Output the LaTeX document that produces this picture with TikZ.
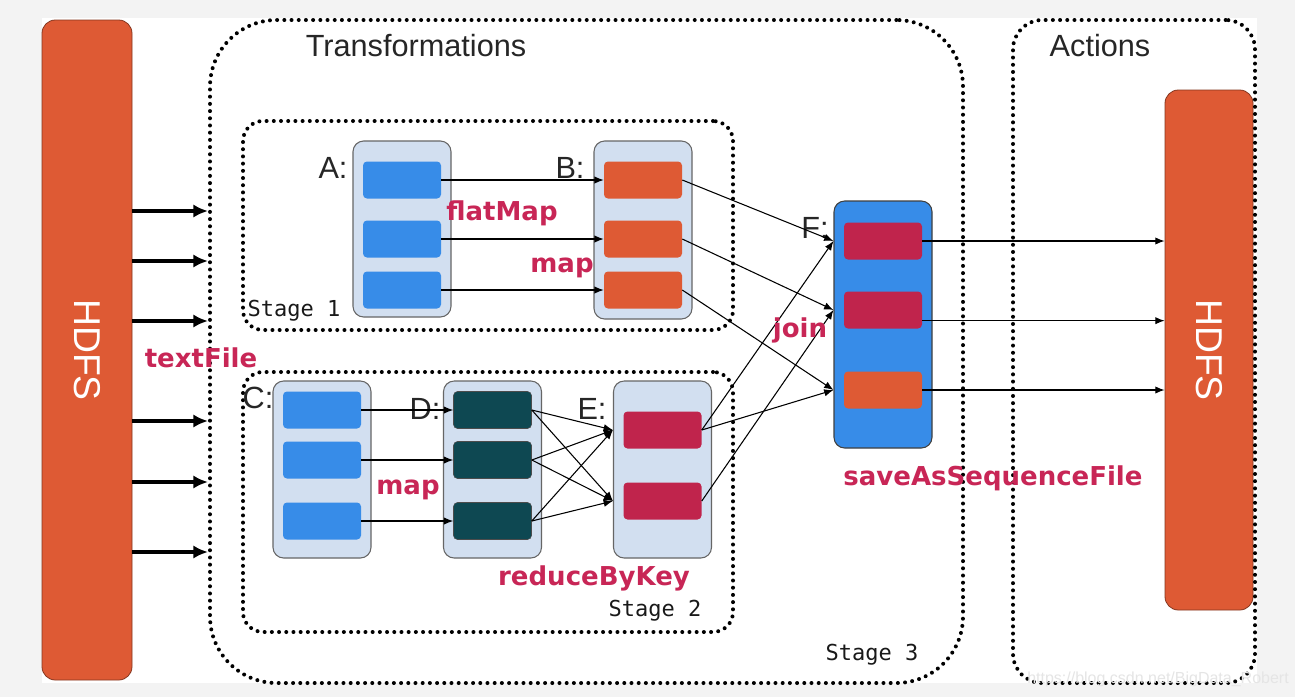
\documentclass[tikz,border=0pt]{standalone}
\usepackage{fontspec}
\setmainfont{Liberation Sans}
\setmonofont{DejaVu Sans Mono}
\newfontfamily\opfont{DejaVu Sans}
\usetikzlibrary{arrows.meta,positioning}

\definecolor{hdfsorange}{RGB}{222,90,52}
\definecolor{partblue}{RGB}{55,140,232}
\definecolor{rddfill}{RGB}{210,223,240}
\definecolor{partteal}{RGB}{14,72,82}
\definecolor{partred}{RGB}{192,36,76}
\definecolor{opred}{RGB}{200,38,86}
\definecolor{bggray}{RGB}{243,243,243}

\begin{document}
\begin{tikzpicture}[x=0.75pt,y=-0.75pt,
  hdfs/.style={draw=hdfsorange!60!black, fill=hdfsorange, rounded corners=10pt, line width=0.6pt},
  rdd/.style={draw=black!60, fill=rddfill, rounded corners=8pt, line width=0.8pt,
    minimum width=73.5pt, minimum height=132.75pt},
  part/.style={rounded corners=3pt, inner sep=0pt, minimum width=58.5pt, minimum height=27.75pt},
  stagebox/.style={draw=black, line width=3pt, dash pattern=on 0pt off 5.4pt, line cap=round, rounded corners=15pt},
  flow/.style={-{Latex[length=7pt,width=5.5pt]}, line width=0.8pt},
  load/.style={-{Latex[length=11pt,width=10pt]}, line width=3pt},
  opname/.style={text=opred, font=\opfont\bfseries\fontsize{19.5}{19.5}\selectfont},
  rddname/.style={text=black!85, font=\fontsize{23}{23}\selectfont},
  stagename/.style={text=black!90, font=\ttfamily\fontsize{16.5}{16.5}\selectfont}]

  % Page
  \useasboundingbox (0,0) rectangle (1295,697);
  \fill[bggray] (0,0) rectangle (1295,697);
  \fill[white] (42,18) rectangle (1257,683);

  % Storage on both sides
  \node[hdfs, minimum width=67.5pt, minimum height=495pt] (hdfsL) at (87,350) {};
  \node[hdfs, minimum width=66pt, minimum height=390pt] (hdfsR) at (1209,350) {};
  \node[text=white, rotate=-90, font=\fontsize{28}{28}\selectfont] at (hdfsL) {HDFS};
  \node[text=white, rotate=-90, font=\fontsize{28}{28}\selectfont] at (hdfsR) {HDFS};

  % Dotted groups
  \node[stagebox, rounded corners=50pt, minimum width=564.75pt, minimum height=497.25pt] (trans) at (586.5,351.5) {};
  \node[stagebox, rounded corners=22pt, minimum width=181.5pt, minimum height=497.25pt] (actions) at (1134,351.5) {};
  \node[stagebox, minimum width=367.5pt, minimum height=156.75pt] (stage1) at (488,225.5) {};
  \node[stagebox, minimum width=367.5pt, minimum height=195pt] (stage2) at (488,502) {};
  \node[rddname] at (416,46) {Transformations};
  \node[rddname] at (1100,46) {Actions};
  \node[stagename] at (294,311) {Stage 1};
  \node[stagename] at (655,611) {Stage 2};
  \node[stagename] at (872,655) {Stage 3};

  % RDDs of stage 1
  \node[rdd, minimum height=132pt] (A) at (402,229) {};
  \node[rdd, minimum height=133.5pt] (B) at (643,230) {};
  \node[part, fill=partblue] (A1) at (402,180) {};
  \node[part, fill=partblue] (A2) at (402,239) {};
  \node[part, fill=partblue] (A3) at (402,290) {};
  \node[part, fill=hdfsorange] (B1) at (643,180) {};
  \node[part, fill=hdfsorange] (B2) at (643,239) {};
  \node[part, fill=hdfsorange] (B3) at (643,290) {};

  % RDDs of stage 2
  \node[rdd] (C) at (322,469.5) {};
  \node[rdd] (D) at (492.5,469.5) {};
  \node[rdd] (E) at (662.5,469.5) {};
  \node[part, fill=partblue] (C1) at (322,410) {};
  \node[part, fill=partblue] (C2) at (322,460) {};
  \node[part, fill=partblue] (C3) at (322,521) {};
  \node[part, fill=partteal, draw=black!70] (D1) at (492.5,410) {};
  \node[part, fill=partteal, draw=black!70] (D2) at (492.5,460) {};
  \node[part, fill=partteal, draw=black!70] (D3) at (492.5,521) {};
  \node[part, fill=partred] (E1) at (662.5,430) {};
  \node[part, fill=partred] (E2) at (662.5,501) {};

  % Joined RDD
  \node[rdd, fill=partblue, draw=black!75, minimum height=185.25pt] (F) at (883,324.5) {};
  \node[part, fill=partred] (F1) at (883,241) {};
  \node[part, fill=partred] (F2) at (883,310) {};
  \node[part, fill=hdfsorange] (F3) at (883,390) {};

  % RDD labels
  \node[rddname] at (333,168) {A:};
  \node[rddname] at (570,168) {B:};
  \node[rddname] at (258,398) {C:};
  \node[rddname] at (425,409) {D:};
  \node[rddname] at (592,409) {E:};
  \node[rddname] at (815,228) {F:};

  % Reading the input
  \foreach \y in {211,261,321,421,482,552}
    \draw[load] (hdfsL.east |- 0,\y) -- (trans.west |- 0,\y);

  % Narrow dependencies
  \foreach \i in {1,2,3} {
    \draw[flow] (A\i.east) -- (B\i.west);
    \draw[flow] (C\i.east) -- (D\i.west);
    \draw[flow] (B\i.east) -- (F\i -| F.west);
  }

  % Shuffle D -> E
  \foreach \i in {1,2,3}
    \foreach \j in {1,2}
      \draw[flow] (D\i.east) -- (E\j -| E.west);

  % Join into F
  \draw[flow] (E1.east) -- (F1 -| F.west);
  \draw[flow] (E1.east) -- (F3 -| F.west);
  \draw[flow] (E2.east) -- (F2 -| F.west);

  % Writing the output
  \draw[flow] (F1.east) -- (F1 -| hdfsR.west);
  \draw[flow] ([yshift=-8pt]F2.east) coordinate (f2out) -- (f2out -| hdfsR.west);
  \draw[flow] (F3.east) -- (F3 -| hdfsR.west);

  % Operation names
  \node[opname] at (502,213) {flatMap};
  \node[opname] at (562,268) {map};
  \node[opname] at (201,358) {textFile};
  \node[opname] at (408,490) {map};
  \node[opname] at (594,578) {reduceByKey};
  \node[opname] at (800,330) {join};
  \node[opname] at (993,478) {saveAsSequenceFile};

  % Watermark
  \node[text=black!10, font=\fontsize{12}{12}\selectfont] at (1158,679) {https://blog.csdn.net/BigData\_Robert};

\end{tikzpicture}
\end{document}
